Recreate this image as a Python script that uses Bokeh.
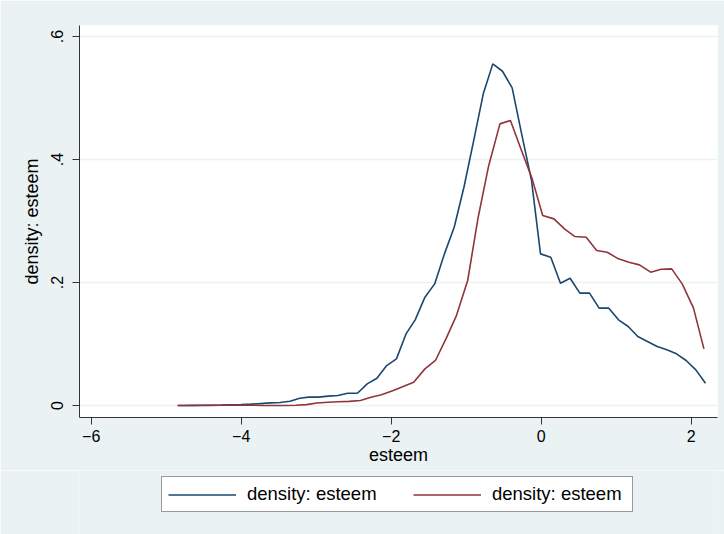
from bokeh.plotting import figure
from bokeh.layouts import column
from bokeh.models import Range1d, FixedTicker, Legend, LegendItem
from bokeh.embed import file_html
from bokeh.resources import INLINE

# Series 1 (navy) kernel density
x_blue = [-4.84, -4.77, -4.64, -4.51, -4.39, -4.26, -4.13, -4.00, -3.87, -3.74,
          -3.61, -3.48, -3.35, -3.22, -3.10, -2.97, -2.84, -2.71, -2.58, -2.45,
          -2.32, -2.19, -2.06, -1.93, -1.80, -1.68, -1.55, -1.42, -1.29, -1.16,
          -1.03, -0.90, -0.77, -0.645, -0.516, -0.387, -0.258, -0.129, -0.009, 0.128,
          0.257, 0.386, 0.515, 0.644, 0.773, 0.902, 1.031, 1.160, 1.288, 1.417,
          1.546, 1.675, 1.804, 1.933, 2.062, 2.191]
y_blue = [0.0000, 0.0001, 0.0002, 0.0003, 0.0005, 0.0006, 0.0011, 0.0016, 0.0022, 0.0033,
          0.0043, 0.0049, 0.0070, 0.0119, 0.0136, 0.0136, 0.0152, 0.0163, 0.0200, 0.0200,
          0.0352, 0.0444, 0.0650, 0.0759, 0.1170, 0.1393, 0.1762, 0.1978, 0.2466, 0.2900,
          0.3550, 0.4309, 0.5079, 0.5556, 0.5436, 0.5165, 0.4400, 0.3660, 0.2466, 0.2412,
          0.1989, 0.2070, 0.1827, 0.1827, 0.1583, 0.1583, 0.1393, 0.1285, 0.1122, 0.1041,
          0.0959, 0.0905, 0.0840, 0.0732, 0.0580, 0.0363]

# Series 2 (maroon) kernel density
x_red = [-4.85, -4.71, -4.56, -4.42, -4.28, -4.13, -3.99, -3.85, -3.70, -3.56,
         -3.42, -3.27, -3.13, -2.99, -2.84, -2.70, -2.56, -2.41, -2.27, -2.13,
         -1.98, -1.84, -1.70, -1.55, -1.41, -1.27, -1.13, -0.98, -0.84, -0.70,
         -0.55, -0.41, -0.27, -0.12, 0.02, 0.17, 0.31, 0.45, 0.60, 0.74,
         0.88, 1.03, 1.17, 1.31, 1.46, 1.60, 1.74, 1.88, 2.03, 2.17]
y_red = [0.0000, 0.0000, 0.0001, 0.0002, 0.0003, 0.0005, 0.0006, 0.0004, 0.0002, 0.0001,
         0.0001, 0.0003, 0.0015, 0.0040, 0.0052, 0.0060, 0.0068, 0.0082, 0.0135, 0.0175,
         0.0240, 0.0310, 0.0379, 0.0596, 0.0732, 0.1084, 0.1463, 0.2033, 0.3062, 0.3900,
         0.4580, 0.4634, 0.4173, 0.3686, 0.3089, 0.3035, 0.2873, 0.2748, 0.2737, 0.2520,
         0.2493, 0.2385, 0.2331, 0.2287, 0.2168, 0.2217, 0.2222, 0.1978, 0.1588, 0.0921]

x_ticks = [-6, -4, -2, 0, 2]
x_tick_labels = ["\u22126", "\u22124", "\u22122", "0", "2"]
y_ticks = [0, 0.2, 0.4, 0.6]
y_tick_labels = ["0", ".2", ".4", ".6"]
series_labels = ["density: esteem", "density: esteem"]
x_title = "esteem"
y_title = "density: esteem"

BG = "#eaf2f3"
NAVY = "#1a476f"
MAROON = "#90353b"
FONT = "Liberation Sans"

p = figure(width=724, height=470,
           min_border_left=79, min_border_right=7, min_border_top=25, min_border_bottom=53,
           x_range=Range1d(-6.156, 2.351), y_range=Range1d(-0.0195, 0.618),
           output_backend="svg", toolbar_location=None,
           background_fill_color="white", border_fill_color=BG,
           outline_line_color=None)

p.line(x_blue, y_blue, line_color=NAVY, line_width=1.6)
p.line(x_red, y_red, line_color=MAROON, line_width=1.6)

p.xgrid.visible = False
p.ygrid.grid_line_color = BG
p.ygrid.grid_line_width = 1.5

p.xaxis.ticker = FixedTicker(ticks=x_ticks)
p.yaxis.ticker = FixedTicker(ticks=y_ticks)
p.xaxis.major_label_overrides = {t: l for t, l in zip(x_ticks, x_tick_labels)}
p.yaxis.major_label_overrides = {t: l for t, l in zip(y_ticks, y_tick_labels)}
p.yaxis.major_label_orientation = "vertical"

for ax in (p.xaxis[0], p.yaxis[0]):
    ax.axis_line_color = "#333333"
    ax.axis_line_width = 1
    ax.major_tick_line_color = "#333333"
    ax.major_tick_out = 7
    ax.major_tick_in = 0
    ax.minor_tick_line_color = None
    ax.major_label_text_font = FONT
    ax.major_label_text_font_size = "16px"
    ax.major_label_text_color = "black"
    ax.axis_label_text_font = FONT
    ax.axis_label_text_font_size = "18px"
    ax.axis_label_text_font_style = "normal"
    ax.axis_label_text_color = "black"

p.xaxis.axis_label = x_title
p.yaxis.axis_label = y_title
p.xaxis.major_label_standoff = 5
p.xaxis.axis_label_standoff = 0
p.yaxis.major_label_standoff = 9
p.yaxis.axis_label_standoff = 7

# Legend strip below the plot (same background as the graph region)
p2 = figure(width=724, height=64, min_border=0,
            x_range=Range1d(0, 1), y_range=Range1d(0, 1),
            x_axis_type=None, y_axis_type=None,
            output_backend="svg", toolbar_location=None,
            background_fill_color=BG, border_fill_color=BG,
            outline_line_color=None)
# legend swatches only: their points lie outside the strip's visible range
l1 = p2.line([5, 6], [5, 5], line_color=NAVY, line_width=1.6)
l2 = p2.line([5, 6], [5, 5], line_color=MAROON, line_width=1.6)

legend = Legend(items=[LegendItem(label=series_labels[0], renderers=[l1]),
                       LegendItem(label=series_labels[1], renderers=[l2])],
                orientation="horizontal", location=(82, 22),
                glyph_width=68, glyph_height=19, label_standoff=11, spacing=32,
                label_width=134, padding=6, margin=0,
                label_text_font=FONT, label_text_font_size="18.5px", label_text_color="black",
                border_line_color="#333333", border_line_width=1,
                background_fill_color="white", background_fill_alpha=1.0)
p2.add_layout(legend, "center")

layout = column(p, p2, spacing=0)
open("out.html", "w").write(file_html(layout, INLINE))
